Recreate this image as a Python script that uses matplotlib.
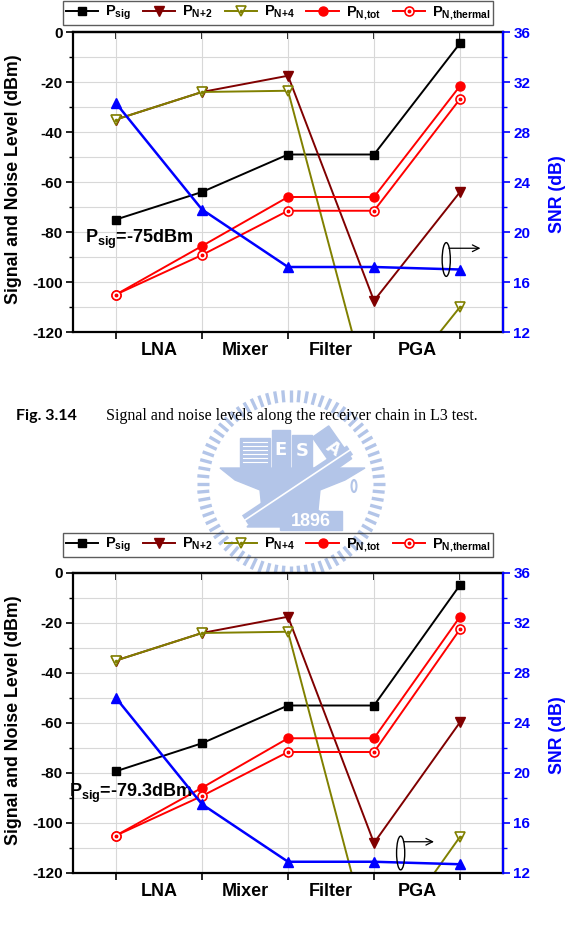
import numpy as np
import matplotlib
matplotlib.use("Agg")
import matplotlib.pyplot as plt
from matplotlib.patches import Ellipse, Rectangle, Polygon
from matplotlib.legend_handler import HandlerTuple
from matplotlib.ticker import MultipleLocator

plt.rcParams['font.family'] = ['Liberation Sans', 'DejaVu Sans']
plt.rcParams['font.weight'] = 'bold'
plt.rcParams['axes.unicode_minus'] = False
plt.rcParams['mathtext.fontset'] = 'custom'
plt.rcParams['mathtext.rm'] = 'Liberation Sans:bold'
plt.rcParams['mathtext.it'] = 'Liberation Sans:bold'
plt.rcParams['mathtext.bf'] = 'Liberation Sans:bold'

# Data
nodes = [0, 1, 2, 3, 4]
stage_labels = ['LNA', 'Mixer', 'Filter', 'PGA']
stage_pos = [0.5, 1.5, 2.5, 3.5]

# top chart: Psig = -75 dBm
psig_a = [-75, -64, -49, -49, -4.5]
pn2_a = [-35, -24, -17.5, -107.5, -64]
pn4_a = [-35, -24, -23.5, -153, -110]
ptot_a = [-105, -85.6, -66, -66, -21.6]
pth_a = [-105, -89.2, -71.5, -71.5, -26.8]
snr_a = [30.3, 21.8, 17.2, 17.2, 17.0]

# bottom chart: Psig = -79.3 dBm
psig_b = [-79.3, -68.1, -53, -53, -4.8]
pn2_b = [-35, -24, -17.5, -108, -59.7]
pn4_b = [-35, -24, -23.5, -154, -105.5]
ptot_b = [-105, -85.9, -66.1, -66.1, -17.5]
pth_b = [-105, -89.2, -71.6, -71.6, -22.5]
snr_b = [26.0, 17.5, 12.9, 12.9, 12.7]

BLUE = '#0000ff'
DRED = '#800000'
OLIVE = '#808000'
RED = '#ff0000'
LW = 1.4

W, H = 573, 932
fig = plt.figure(figsize=(W / 100, H / 100), dpi=100)


def draw_panel(top_px, leg_px, psig, pn2, pn4, ptot, pth, snr, note, note_xy, ell_xy, arrow_y, arrow_x2):
    ax = fig.add_axes([73 / W, (H - top_px - 300) / H, 430 / W, 300 / H], zorder=1)
    ax.set_xlim(-0.5, 4.5)
    ax.set_ylim(-120, 0)

    l1, = ax.plot(nodes, psig, color='black', lw=LW, marker='s', ms=5.5)
    l2, = ax.plot(nodes, pn2, color=DRED, lw=LW, marker='v', ms=7.5)
    l3, = ax.plot(nodes, pn4, color=OLIVE, lw=LW, marker='v', ms=7.5, mfc='white', mew=1.2)
    d3, = ax.plot(nodes, pn4, ls='none', marker='o', ms=1.6, color=OLIVE)
    l4, = ax.plot(nodes, ptot, color=RED, lw=LW, marker='o', ms=6.5)
    l5, = ax.plot(nodes, pth, color=RED, lw=LW, marker='o', ms=6.5, mfc='white', mew=1.2)
    d5, = ax.plot(nodes, pth, ls='none', marker='o', ms=1.8, color=RED)

    # axes styling
    ax.set_xticks(nodes)
    ax.set_xticklabels([])
    ax.set_xticks(stage_pos, minor=True)
    ax.set_xticklabels(stage_labels, minor=True, fontsize=13, fontweight='bold')
    ax.tick_params(axis='x', which='major', direction='out', length=5, width=1.2)
    ax.tick_params(axis='x', which='minor', length=0, pad=7)
    ax.yaxis.set_major_locator(MultipleLocator(20))
    ax.yaxis.set_minor_locator(MultipleLocator(10))
    ax.tick_params(axis='y', which='major', direction='out', length=5, width=1.2, labelsize=11, pad=2.5)
    ax.tick_params(axis='y', which='minor', direction='out', length=3, width=1.0)
    ax.grid(True, which='major', axis='x', color='#d8d8d8', lw=0.8)
    ax.grid(True, which='both', axis='y', color='#d8d8d8', lw=0.8)
    ax.set_axisbelow(True)
    for s in ax.spines.values():
        s.set_linewidth(1.6)
    ax.set_ylabel('Signal and Noise Level (dBm)', fontsize=12.8, fontweight='bold')
    ax.yaxis.set_label_coords(-0.119, 0.51)

    sec = ax.secondary_xaxis('top')
    sec.set_xticks(nodes)
    sec.set_xticklabels([])
    sec.tick_params(direction='in', length=5, width=1.2)
    sec.spines['top'].set_linewidth(1.6)

    ax2 = ax.twinx()
    ax2.set_ylim(12, 36)
    ax2.plot(nodes, snr, color=BLUE, lw=LW + 0.4, marker='^', ms=7.5)
    ax2.yaxis.set_major_locator(MultipleLocator(4))
    ax2.yaxis.set_minor_locator(MultipleLocator(2))
    ax2.tick_params(axis='y', which='major', direction='out', length=5, width=1.2,
                    colors=BLUE, labelsize=11, pad=2.5)
    ax2.tick_params(axis='y', which='minor', direction='out', length=3, width=1.0, colors=BLUE)
    ax2.spines['right'].set_color(BLUE)
    ax2.spines['right'].set_linewidth(1.6)
    for side in ['left', 'top', 'bottom']:
        ax2.spines[side].set_visible(False)
    ax2.set_ylabel('SNR (dB)', color=BLUE, fontsize=12.8, fontweight='bold')
    ax2.yaxis.set_label_coords(1.107, 0.46)

    # annotation and the "belongs to right axis" marker
    ax.text(note_xy[0], note_xy[1], note, fontsize=13, fontweight='bold', va='center', ha='left')
    ax2.add_patch(Ellipse(ell_xy, 0.095, 2.7, fill=False, ec='black', lw=1.0, zorder=5))
    ax2.annotate('', xy=(arrow_x2, arrow_y), xytext=(ell_xy[0], arrow_y),
                 arrowprops=dict(arrowstyle='->', color='black', lw=0.9, mutation_scale=12), zorder=5)

    labels = [r'P$_{\mathrm{sig}}$', r'P$_{\mathrm{N{+}2}}$', r'P$_{\mathrm{N{+}4}}$',
              r'P$_{\mathrm{N{,}tot}}$', r'P$_{\mathrm{N{,}thermal}}$']
    leg = ax.legend([l1, l2, (l3, d3), l4, (l5, d5)], labels, ncol=5,
                    handler_map={tuple: HandlerTuple(ndivide=1)},
                    loc='upper left', bbox_to_anchor=(63 / W, (H - leg_px) / H),
                    bbox_transform=fig.transFigure, borderaxespad=0, fontsize=10.5,
                    handlelength=2.2, handletextpad=0.5, columnspacing=0.8, borderpad=0.2,
                    fancybox=False, edgecolor='#333333', facecolor='none')
    leg.get_frame().set_linewidth(1.0)
    return ax, ax2


draw_panel(32, 1, psig_a, pn2_a, pn4_a, ptot_a, pth_a, snr_a,
           r'P$_{\mathrm{sig}}$=-75dBm', (-0.36, -83), (3.84, 17.8), 18.7, 4.27)
draw_panel(573, 533, psig_b, pn2_b, pn4_b, ptot_b, pth_b, snr_b,
           r'P$_{\mathrm{sig}}$=-79.3dBm', (-0.55, -88), (3.31, 13.6), 14.5, 3.73)

# faint institution watermark between the two charts
lax = fig.add_axes([0, 0, 1, 1], zorder=-1)
lax.set_xlim(0, W)
lax.set_ylim(H, 0)
lax.axis('off')
LC = '#b3c5e8'
cx, cy = 291, 484
for a in np.linspace(0, 2 * np.pi, 72, endpoint=False):
    lax.plot([cx + 82 * np.cos(a), cx + 94 * np.cos(a)], [cy + 82 * np.sin(a), cy + 94 * np.sin(a)],
             color=LC, lw=2.4, solid_capstyle='butt')
lax.add_patch(Rectangle((240, 438), 30, 29, color=LC))
for yy in range(442, 466, 4):
    lax.plot([243, 267], [yy, yy], color='white', lw=0.8)
lax.add_patch(Rectangle((272, 430), 18, 37, color=LC))
lax.add_patch(Rectangle((292, 435), 20, 32, color=LC))
lax.text(281, 450, 'E', color='white', fontsize=13, ha='center', va='center', family='DejaVu Sans')
lax.text(302, 451, 'S', color='white', fontsize=13, ha='center', va='center', family='DejaVu Sans')
lax.add_patch(Rectangle((322, 428), 20, 40, angle=-35, rotation_point='center', color=LC))
lax.text(333, 449, 'A', color='white', fontsize=12, ha='center', va='center', rotation=-35,
         family='DejaVu Sans')
lax.add_patch(Polygon([(220, 468), (365, 468), (345, 480), (320, 490), (318, 510), (338, 527),
                       (247, 527), (262, 510), (260, 490), (235, 480)], closed=True, color=LC))
lax.plot([245, 350], [520, 450], color=LC, lw=8, solid_capstyle='butt')
lax.plot([245, 350], [520, 450], color='white', lw=1.2)
lax.add_patch(Rectangle((280, 511), 62, 19, color=LC))
lax.text(311, 521, '1896', color='white', fontsize=13, ha='center', va='center')
lax.add_patch(Ellipse((354, 486), 5, 12, fill=False, ec=LC, lw=1.5))

# caption
fig.text(16 / W, (H - 420) / H, 'Fig. 3.14', family='Lato', fontweight='bold', fontsize=11.5,
         va='baseline')
fig.text(106 / W, (H - 420) / H, 'Signal and noise levels along the receiver chain in L3 test.',
         family='Liberation Serif', fontweight='normal', fontsize=11.5, va='baseline')

fig.savefig('out.png', dpi=100)
